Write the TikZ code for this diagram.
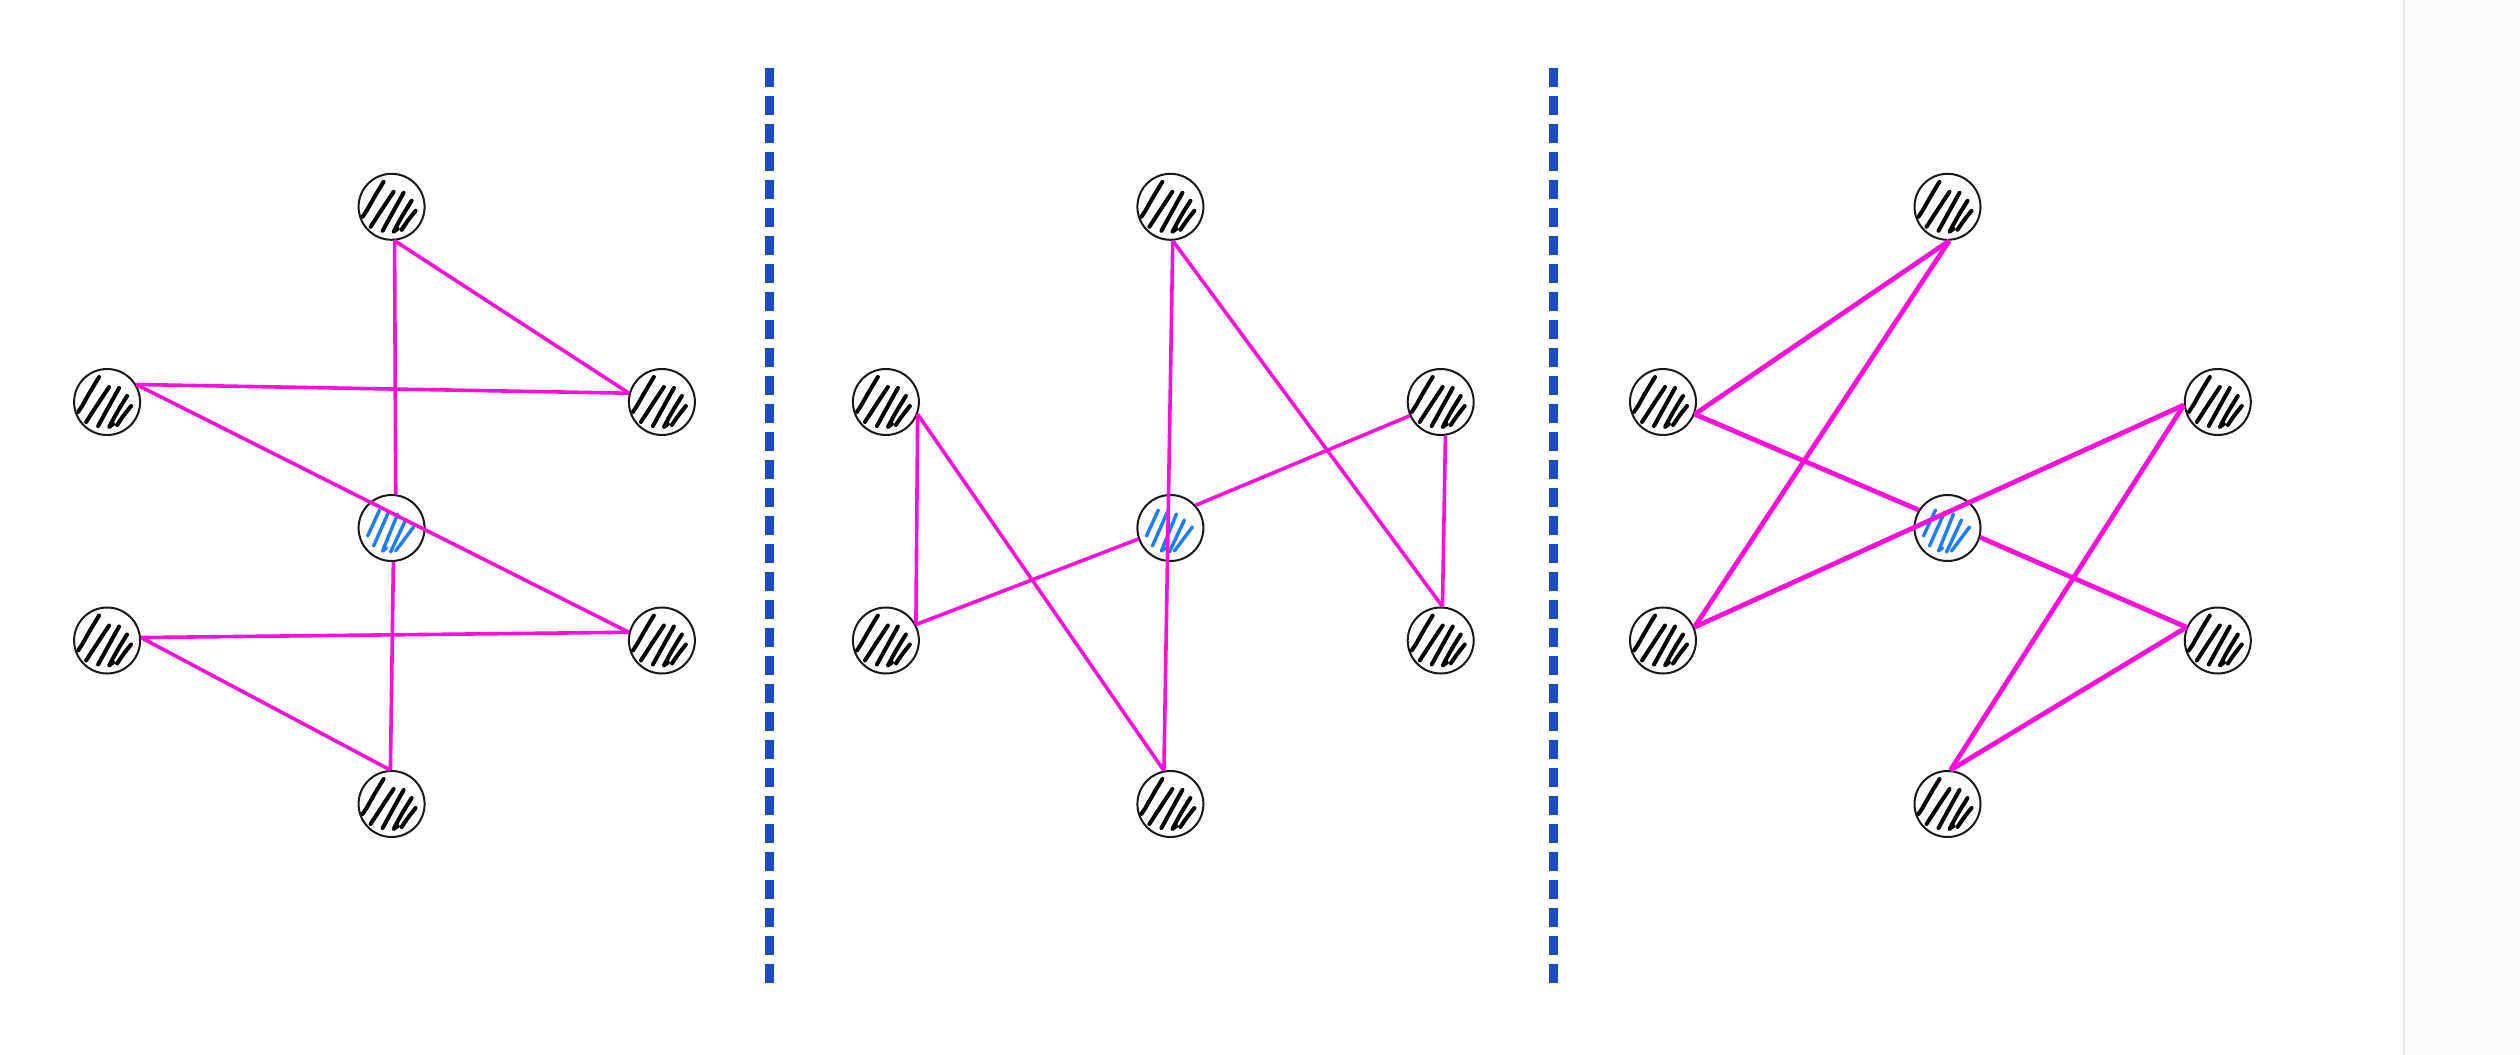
\documentclass[tikz,border=0pt]{standalone}
\definecolor{edgemag}{RGB}{255,16,216}
\definecolor{divblue}{RGB}{26,76,190}
\definecolor{hatchblue}{RGB}{30,125,240}
\definecolor{sidegray}{RGB}{228,228,236}
\definecolor{sidefill}{RGB}{252,252,252}
\newcommand{\hatchblk}{%
  \draw[black, line width=4pt, line cap=round, line join=round]
    (-8,-25) .. controls (-16,-12) .. (-25,4) -- (-29,10)
    (2,-15) .. controls (-8,0) .. (-21,20)
    (12,-14) .. controls (2,4) .. (-9,24)
    (20,-6) .. controls (10,10) .. (2,25) -- (6,22)
    (24,4) .. controls (16,14) .. (10,23);}
\newcommand{\hatchblu}{%
  \draw[hatchblue, line width=3.4pt, line cap=round, line join=round]
    (-12,-18) -- (-24,8)
    (-3,-16) -- (-18,18)
    (6,-14) -- (-9,23) -- (-5,20)
    (14,-8) -- (-1,24)
    (22,-1) -- (4,23);}
\tikzset{
  vert/.style={circle, draw=black!90, line width=2pt, fill=white,
    minimum size=66pt, inner sep=0pt},
  blackvert/.style={vert, path picture={\begin{scope}[shift={(path picture bounding box.center)}]\hatchblk\end{scope}}},
  bluevert/.style={vert, path picture={\begin{scope}[shift={(path picture bounding box.center)}]\hatchblu\end{scope}}},
  edgeline/.style={draw=edgemag, line width=3.6pt},
  edgethick/.style={draw=edgemag, line width=4.8pt},
  divider/.style={draw=divblue, line width=9pt, dash pattern=on 18.5pt off 9.5pt},
  sideline/.style={draw=sidegray, line width=2.4pt}
}
\begin{document}
\begin{tikzpicture}[x=1pt, y=-1pt]
  \fill[white] (0,0) rectangle (2520,1055);
  \useasboundingbox (0,0) rectangle (2520,1055);
  \fill[sidefill] (2404,0) rectangle (2520,1055);
  \coordinate (sidetop) at (2404,0);
  \coordinate (sidebot) at (2404,1055);
  \draw[sideline] (sidetop) -- (sidebot);

  % dividers
  \coordinate (d1top) at (769.5,68);
  \coordinate (d1bot) at (769.5,983);
  \coordinate (d2top) at (1553.5,68);
  \coordinate (d2bot) at (1553.5,983);
  \draw[divider] (d1top) -- (d1bot);
  \draw[divider] (d2top) -- (d2bot);

  % nodes
  \foreach \i/\cx in {1/391.6, 2/1170.4, 3/1947.5}{
    \node[blackvert] (p\i t)  at (\cx,206.8) {};
    \node[blackvert] (p\i lu) at ({\cx-284.5},402) {};
    \node[blackvert] (p\i ru) at ({\cx+270.3},402) {};
    \node[bluevert]  (p\i c)  at (\cx,528) {};
    \node[blackvert] (p\i ll) at ({\cx-284.5},640.5) {};
    \node[blackvert] (p\i rl) at ({\cx+270.3},640.5) {};
    \node[blackvert] (p\i b)  at (\cx,804) {};
  }

  % panel 1
  \draw[edgeline] (p1t.275) -- (p1c.83);
  \draw[edgeline] (p1t.275) -- (p1ru.165);
  \draw[edgeline] (p1lu.31) -- (p1ru.165);
  \draw[edgeline] (p1lu.31) -- (p1rl.166);
  \draw[edgeline] (p1ll.5) -- (p1rl.166);
  \draw[edgeline] (p1ll.5) -- (p1b.92);
  \draw[edgeline] (p1c.273) -- (p1b.92);

  % panel 2
  \draw[edgeline] (p2t.274) -- (p2b.101);
  \draw[edgeline] (p2t.274) -- (p2rl.87);
  \draw[edgeline] (p2lu.339) -- (p2ll.28);
  \draw[edgeline] (p2lu.339) -- (p2b.101);
  \draw[edgeline] (p2ll.28) -- (p2c.199);
  \draw[edgeline] (p2c.42) -- (p2ru.204);
  \draw[edgeline] (p2ru.278) -- (p2rl.87);

  % panel 3
  \draw[edgethick] (p3t.273) -- (p3lu.339);
  \draw[edgethick] (p3t.273) -- (p3ll.23);
  \draw[edgethick] (p3lu.339) -- (p3c.148);
  \draw[edgethick] (p3c.344) -- (p3rl.157);
  \draw[edgethick] (p3ll.23) -- (p3ru.185);
  \draw[edgethick] (p3ru.185) -- (p3b.85);
  \draw[edgethick] (p3rl.157) -- (p3b.85);
\end{tikzpicture}
\end{document}
